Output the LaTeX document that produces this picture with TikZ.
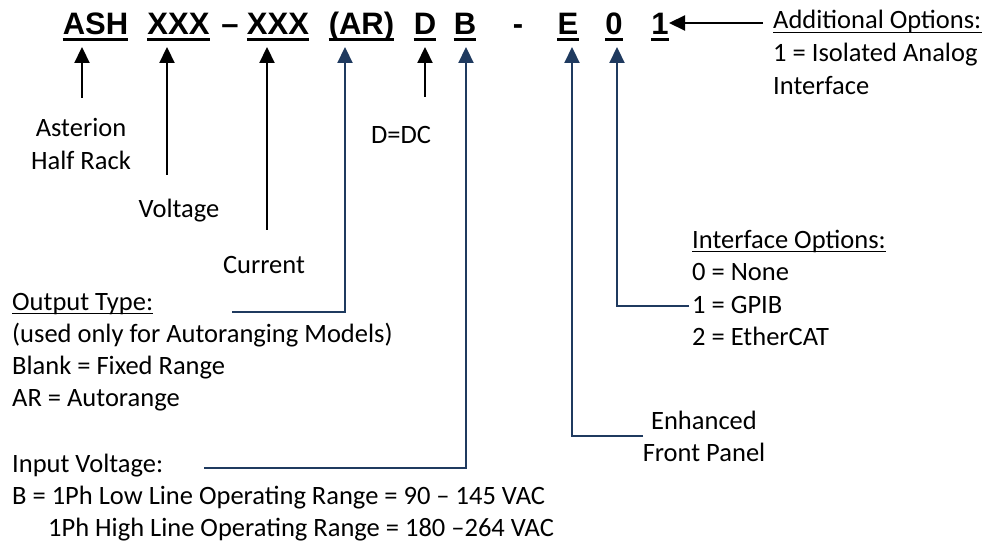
\documentclass[tikz,border=0pt]{standalone}
\usepackage{fontspec}
\setmainfont{Carlito}
\newfontfamily\arialfont{Liberation Sans}
\usetikzlibrary{arrows.meta}
\definecolor{navy}{HTML}{1F3A5F}
\newcommand{\hdrfont}{\arialfont\bfseries\fontsize{31}{36}\selectfont}
\newcommand{\txtfont}{\fontsize{26.5}{32}\selectfont}
\begin{document}
\begin{tikzpicture}[x=1pt,y=-1pt,
  hdr/.style={inner sep=0pt, anchor=base, font=\hdrfont},
  txt/.style={inner sep=0pt, anchor=base west, font=\txtfont},
  ctxt/.style={inner sep=0pt, anchor=base, font=\txtfont},
  karr/.style={draw=black, line width=2.2pt, -{Triangle[length=16pt,width=15pt]}},
  barr/.style={draw=navy, line width=2.2pt, -{Triangle[length=16pt,width=15pt]}},
  hul/.style={line width=3pt},
  tul/.style={line width=1.4pt}]
\useasboundingbox (0,0) rectangle (984,545);
% header tokens
\node[hdr] (ash) at (95.5,35) {ASH};
\node[hdr] (volt) at (178.5,35) {XXX};
\node[hdr] (dash1) at (230,35) {–};
\node[hdr] (curr) at (278,35) {XXX};
\node[hdr] (ar) at (361.5,35) {(AR)};
\node[hdr] (d) at (425,35) {D};
\node[hdr] (b) at (465,35) {B};
\node[hdr] (dash2) at (518,35) {-};
\node[hdr] (e) at (568,35) {E};
\node[hdr] (zero) at (614,35) {0};
\node[hdr] (one) at (660,35) {1};
\foreach \n in {ash,volt,curr,ar,d,b,e,zero,one}
  \draw[hul] ([yshift=-5pt]\n.base west) -- ([yshift=-5pt]\n.base east);
% labels
\node[ctxt] (ast1) at (81,137) {Asterion};
\node[ctxt] (ast2) at (81,170) {Half Rack};
\node[ctxt] (voltl) at (179,218) {Voltage};
\node[ctxt] (currl) at (264,273) {Current};
\node[ctxt] (ddc) at (401,144) {D=DC};
\node[txt] (outt) at (12,310) {Output Type:};
\draw[tul] ([yshift=-3.5pt]outt.base west) -- ([yshift=-3.5pt]outt.base east);
\node[txt] (out1) at (12,342) {(used only for Autoranging Models)};
\node[txt] (out2) at (12,374) {Blank = Fixed Range};
\node[txt] (out3) at (12,406) {AR = Autorange};
\node[txt] (inv) at (12,472) {Input Voltage:};
\node[txt] (inv1) at (12,504) {B = 1Ph Low Line Operating Range = 90 – 145 VAC};
\node[txt] (inv2) at (48,536) {1Ph High Line Operating Range = 180 –264 VAC};
\node[ctxt] (enh1) at (704,429) {Enhanced};
\node[ctxt] (enh2) at (704,461) {Front Panel};
\node[txt] (ifo) at (692,248) {Interface Options:};
\draw[tul] ([yshift=-3.5pt]ifo.base west) -- ([yshift=-3.5pt]ifo.base east);
\node[txt] (if0) at (692,280) {0 = None};
\node[txt] (if1) at (692,313) {1 = GPIB};
\node[txt] (if2) at (692,345) {2 = EtherCAT};
\node[txt] (add) at (773,29) {Additional Options:};
\draw[tul] ([yshift=-3.5pt]add.base west) -- ([yshift=-3.5pt]add.base east);
\node[txt] (add1) at (773,62) {1 = Isolated Analog};
\node[txt] (add2) at (773,95) {Interface};
% connector ends
\coordinate (ashS) at (82,98);   \coordinate (ashT) at (82,47);
\coordinate (voltS) at (167,175); \coordinate (voltT) at (167,47);
\coordinate (currS) at (267,230); \coordinate (currT) at (267,47);
\coordinate (dS) at (425,97);     \coordinate (dT) at (425,47);
\coordinate (arS) at (232,312);   \coordinate (arT) at (345,47);
\coordinate (bS) at (204,468);    \coordinate (bT) at (466,47);
\coordinate (eS) at (643,436);    \coordinate (eT) at (572,47);
\coordinate (zS) at (689,306);    \coordinate (zT) at (617,47);
\coordinate (oneS) at (763,23);   \coordinate (oneT) at (669,23);
% connectors
\draw[karr] (ashS) -- (ashT);
\draw[karr] (voltS) -- (voltT);
\draw[karr] (currS) -- (currT);
\draw[karr] (dS) -- (dT);
\draw[barr] (arS) -| (arT);
\draw[barr] (bS) -| (bT);
\draw[barr] (eS) -| (eT);
\draw[barr] (zS) -| (zT);
\draw[karr] (oneS) -- (oneT);
\end{tikzpicture}
\end{document}
